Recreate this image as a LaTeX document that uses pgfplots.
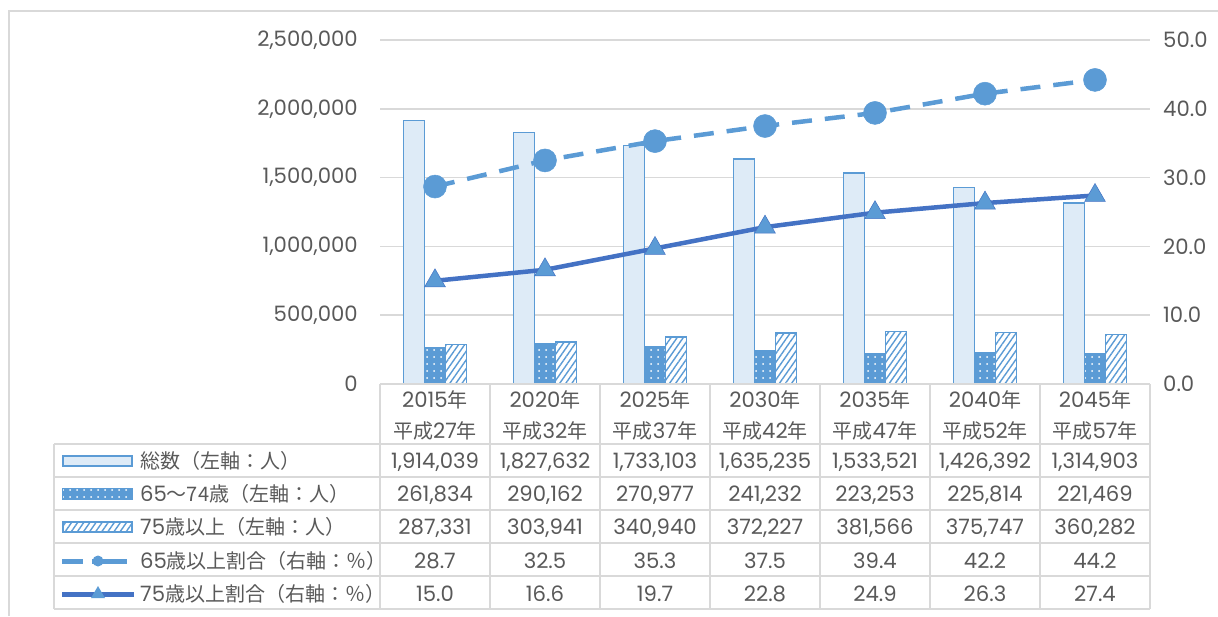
\documentclass[border=0pt]{standalone}
\usepackage{pgfplots}
\pgfplotsset{compat=1.18}
\usepackage{fontspec}
\setmainfont{Poppins}[Scale=1.06]
\newfontfamily\jp{Noto Sans CJK JP}
\usetikzlibrary{patterns.meta}
\definecolor{cTxt}{HTML}{595959}
\definecolor{cGrid}{HTML}{D9D9D9}
\definecolor{cLight}{HTML}{DEEBF7}
\definecolor{cBlue}{HTML}{5B9BD5}
\definecolor{cDark}{HTML}{4472C4}
\newcommand\fs{\fontsize{20}{24}\selectfont}
\tikzset{
  totbar/.style={fill=cLight, draw=cBlue, line width=1.5pt},
  midbar/.style={fill=cBlue, draw=cBlue, line width=1.5pt,
    postaction={pattern={Dots[radius=1pt, distance=7pt]}, pattern color=white}},
  oldbar/.style={fill=white, draw=cBlue, line width=1.5pt,
    postaction={pattern={Lines[angle=55, distance=5pt, line width=1.4pt]}, pattern color=cBlue}},
  tx/.style={text=cTxt, font=\fs, inner sep=0pt},
}

\begin{document}
\begin{tikzpicture}
\path[use as bounding box] (0pt,0pt) rectangle (1218pt,-616pt);

% outer frame
\draw[cGrid, line width=1.5pt] (9pt,-616pt) -- (9pt,-11pt) -- (1218pt,-11pt);

% bars, left axis
\begin{axis}[
  at={(380pt,-384pt)}, anchor=south west,
  scale only axis, width=770pt, height=344pt,
  xmin=-0.5, xmax=6.5, ymin=0, ymax=2500000,
  ytick={0,500000,1000000,1500000,2000000,2500000},
  xtick=\empty,
  ymajorgrids, grid style={cGrid, line width=1.5pt},
  axis line style={draw=none},
  major tick length=0pt,
  scaled y ticks=false,
  yticklabel style={font=\fs, text=cTxt, anchor=east, inner sep=0pt, xshift=-22pt},
  y tick label style={/pgf/number format/fixed, /pgf/number format/1000 sep={,},
    /pgf/number format/assume math mode=true},
  ybar, bar width=21pt,
]
\addplot[totbar, bar shift=-21pt] coordinates {
  (0,1914039) (1,1827632) (2,1733103) (3,1635235) (4,1533521) (5,1426392) (6,1314903)};
\addplot[midbar, bar shift=0pt] coordinates {
  (0,261834) (1,290162) (2,270977) (3,241232) (4,223253) (5,225814) (6,221469)};
\addplot[oldbar, bar shift=21pt] coordinates {
  (0,287331) (1,303941) (2,340940) (3,372227) (4,381566) (5,375747) (6,360282)};
\end{axis}

% ratios, right axis
\begin{axis}[
  at={(380pt,-384pt)}, anchor=south west,
  scale only axis, width=770pt, height=344pt,
  xmin=-0.5, xmax=6.5, ymin=0, ymax=50,
  ytick={0,10,20,30,40,50},
  xtick=\empty,
  axis y line*=right, axis x line=none,
  axis line style={draw=none},
  major tick length=0pt,
  yticklabel style={font=\fs, text=cTxt, inner sep=0pt, xshift=13pt},
  y tick label style={/pgf/number format/fixed, /pgf/number format/fixed zerofill,
    /pgf/number format/precision=1, /pgf/number format/assume math mode=true},
  clip=false,
]
\addplot[cBlue, line width=4.5pt, dash pattern=on 20pt off 13pt,
  mark=*, mark size=11.5pt, mark options={solid, fill=cBlue, draw=cBlue, line width=0.5pt}]
  coordinates {(0,28.7) (1,32.5) (2,35.3) (3,37.5) (4,39.4) (5,42.2) (6,44.2)};
\addplot[cDark, line width=4.5pt,
  mark=triangle*, mark size=12pt, mark options={solid, fill=cBlue, draw=cDark, line width=0.5pt}]
  coordinates {(0,15.0) (1,16.6) (2,19.7) (3,22.8) (4,24.9) (5,26.3) (6,27.4)};
\end{axis}

% data table grid
\begin{scope}[cGrid, line width=1.5pt]
\draw (380pt,-384pt) -- (1150pt,-384pt);
\foreach \k in {0,...,7} \draw ({380pt+110pt*\k},-384pt) -- ({380pt+110pt*\k},-609pt);
\foreach \yy in {444,477,510,543,576,609} \draw (54pt,-\yy pt) -- (1150pt,-\yy pt);
\draw (54pt,-444pt) -- (54pt,-609pt);
\end{scope}

% header
\foreach \yr/\hs [count=\i from 0] in {2015/27,2020/32,2025/37,2030/42,2035/47,2040/52,2045/57} {
  \node[tx, anchor=base] at ({435pt+110pt*\i},-407pt) {\yr{\jp 年}};
  \node[tx, anchor=base] at ({435pt+110pt*\i},-438pt) {{\jp 平成}\hs{\jp 年}};
}

% legend symbols
\fill[cLight] (63pt,-456pt) rectangle (132pt,-466pt);
\draw[cBlue, line width=1.5pt] (63pt,-456pt) rectangle (132pt,-466pt);
\path[midbar] (63pt,-489pt) rectangle (132pt,-499pt);
\path[oldbar] (63pt,-522pt) rectangle (132pt,-532pt);
\draw[cBlue, line width=5pt] (62pt,-561pt) -- (83pt,-561pt);
\draw[cBlue, line width=5pt] (92pt,-561pt) -- (127pt,-561pt);
\fill[cBlue] (98pt,-561pt) circle (5.5pt);
\draw[cDark, line width=5pt] (62pt,-594pt) -- (134pt,-594pt);
\fill[cBlue] (98pt,-586pt) -- (105pt,-598pt) -- (91pt,-598pt) -- cycle;

% row labels
\node[tx, anchor=base west] at (140pt,-468pt) {\jp 総数（左軸：人）};
\node[tx, anchor=base west] at (140pt,-501pt) {65{\jp ～74歳（左軸：人）}};
\node[tx, anchor=base west] at (140pt,-534pt) {75{\jp 歳以上（左軸：人）}};
\node[tx, anchor=base west] at (140pt,-568pt) {65{\jp 歳以上割合（右軸：％）}};
\node[tx, anchor=base west] at (140pt,-601pt) {75{\jp 歳以上割合（右軸：％）}};

% values
\foreach \v [count=\i from 0] in {{1,914,039},{1,827,632},{1,733,103},{1,635,235},{1,533,521},{1,426,392},{1,314,903}}
  \node[tx, anchor=base] at ({435pt+110pt*\i},-468pt) {\v};
\foreach \v [count=\i from 0] in {{261,834},{290,162},{270,977},{241,232},{223,253},{225,814},{221,469}}
  \node[tx, anchor=base] at ({435pt+110pt*\i},-501pt) {\v};
\foreach \v [count=\i from 0] in {{287,331},{303,941},{340,940},{372,227},{381,566},{375,747},{360,282}}
  \node[tx, anchor=base] at ({435pt+110pt*\i},-534pt) {\v};
\foreach \v [count=\i from 0] in {28.7,32.5,35.3,37.5,39.4,42.2,44.2}
  \node[tx, anchor=base] at ({435pt+110pt*\i},-568pt) {\v};
\foreach \v [count=\i from 0] in {15.0,16.6,19.7,22.8,24.9,26.3,27.4}
  \node[tx, anchor=base] at ({435pt+110pt*\i},-601pt) {\v};
\end{tikzpicture}
\end{document}
